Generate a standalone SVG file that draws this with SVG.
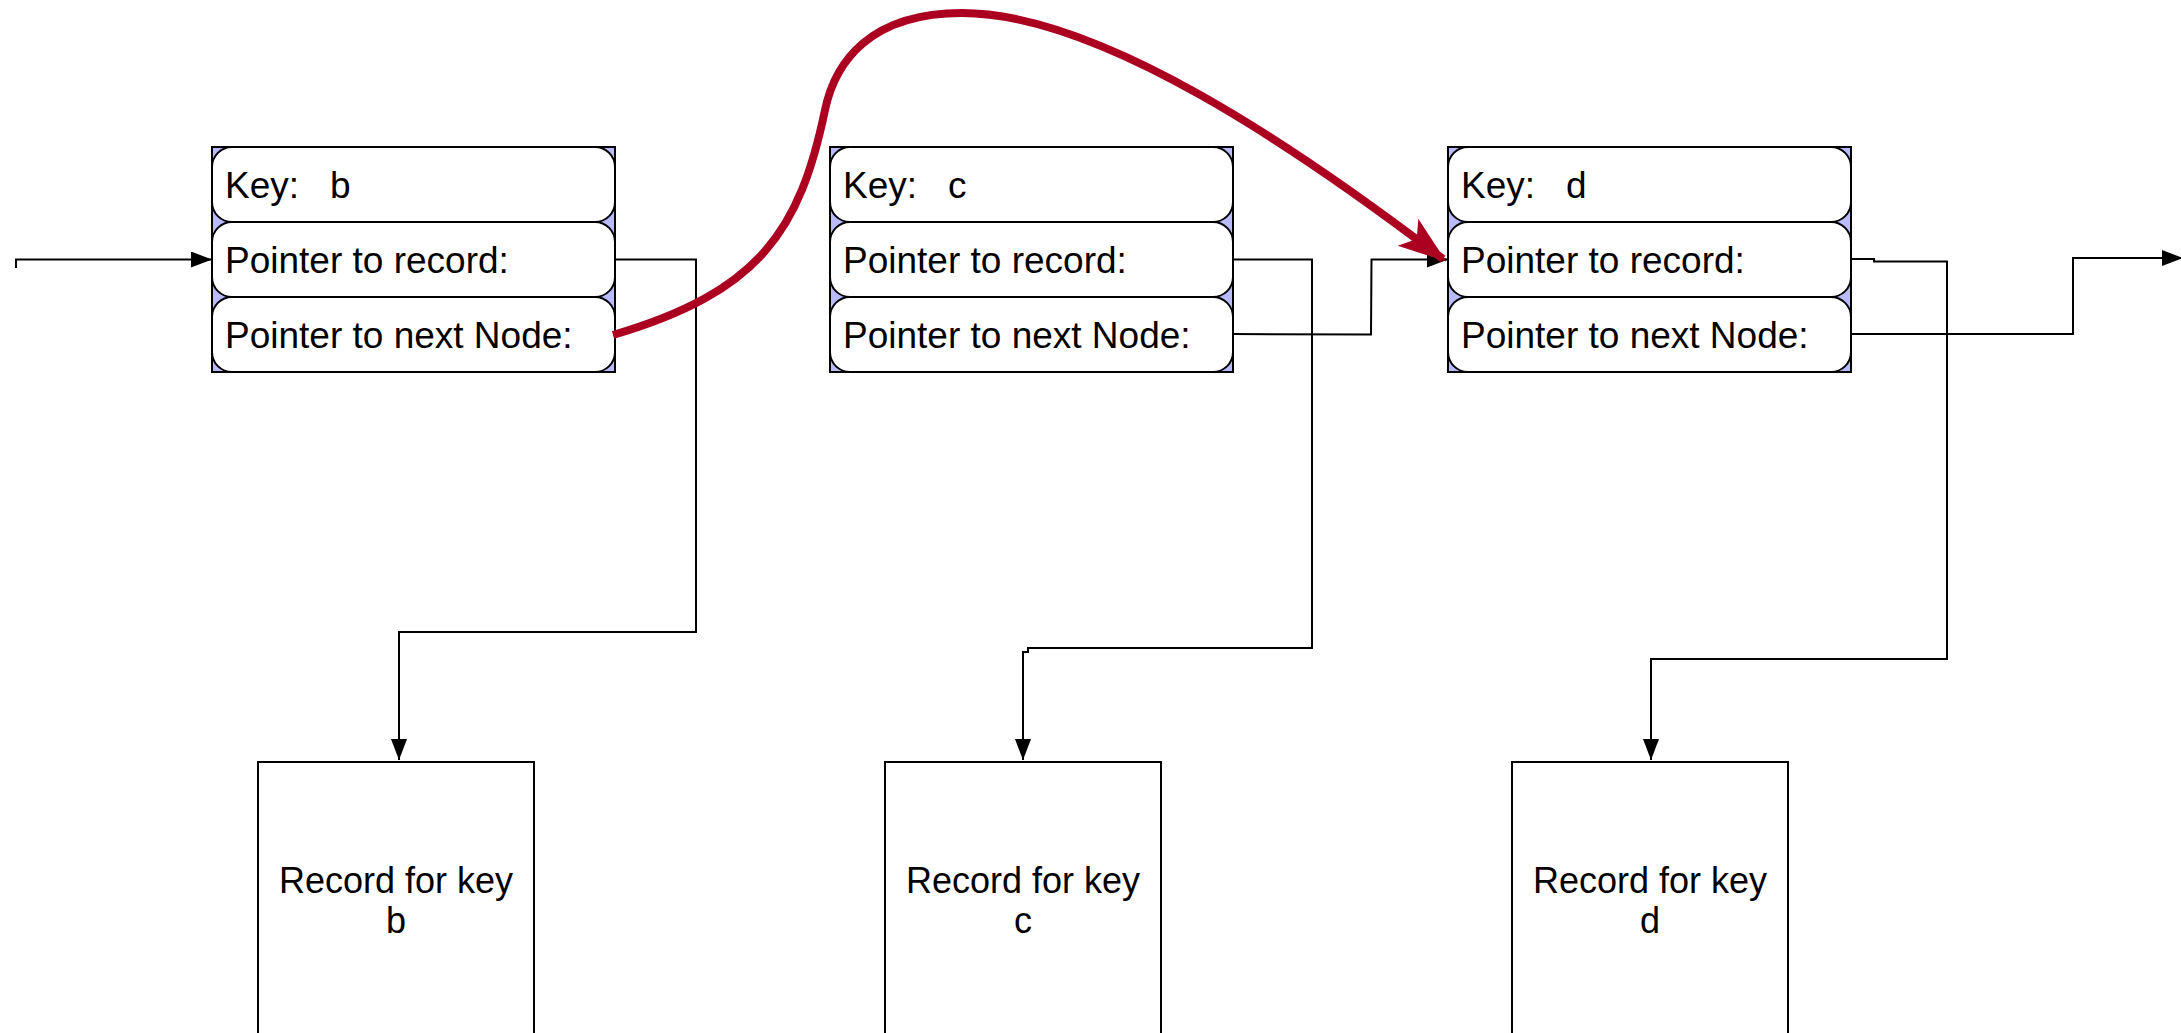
<svg xmlns="http://www.w3.org/2000/svg" width="2181" height="1033" viewBox="0 0 2181 1033">
  <style>
    .outer { fill: #babaff; stroke: #000; stroke-width: 2; }
    .row { fill: #fff; stroke: #000; stroke-width: 2; }
    .rec { fill: #fff; stroke: #000; stroke-width: 2; }
    .t { font-family: "Liberation Sans", Arial, sans-serif; font-size: 37px; fill: #000; }
    .rt { font-family: "Liberation Sans", Arial, sans-serif; font-size: 36px; fill: #000; text-anchor: middle; }
    .conn { fill: none; stroke: #000; stroke-width: 2; }
    .red { fill: none; stroke: #ac0020; stroke-width: 8; }
  </style>
  <defs>
    <marker id="arrow" markerUnits="userSpaceOnUse" markerWidth="22" markerHeight="17" refX="21" refY="8" orient="auto" viewBox="0 0 22 17">
      <path d="M0,0 L21,8 L0,16 z" fill="#000"/>
    </marker>
    <marker id="redarrow" markerUnits="userSpaceOnUse" markerWidth="50" markerHeight="36" refX="44" refY="17" orient="auto" viewBox="0 0 50 36">
      <path d="M0,0 L48,17 L0,34 L11,17 z" fill="#ac0020"/>
    </marker>
  </defs>

  <g id="node-b">
    <rect class="outer" x="212" y="147" width="403" height="225"/>
    <rect class="row" x="212" y="147" width="403" height="75" rx="20" ry="20"/>
    <rect class="row" x="212" y="222" width="403" height="75" rx="20" ry="20"/>
    <rect class="row" x="212" y="297" width="403" height="75" rx="20" ry="20"/>
    <text class="t" x="225" y="198" xml:space="preserve">Key:   b</text>
    <text class="t" x="225" y="273">Pointer to record:</text>
    <text class="t" x="225" y="348">Pointer to next Node:</text>
  </g>

  <g id="node-c">
    <rect class="outer" x="830" y="147" width="403" height="225"/>
    <rect class="row" x="830" y="147" width="403" height="75" rx="20" ry="20"/>
    <rect class="row" x="830" y="222" width="403" height="75" rx="20" ry="20"/>
    <rect class="row" x="830" y="297" width="403" height="75" rx="20" ry="20"/>
    <text class="t" x="843" y="198" xml:space="preserve">Key:   c</text>
    <text class="t" x="843" y="273">Pointer to record:</text>
    <text class="t" x="843" y="348">Pointer to next Node:</text>
  </g>

  <g id="node-d">
    <rect class="outer" x="1448" y="147" width="403" height="225"/>
    <rect class="row" x="1448" y="147" width="403" height="75" rx="20" ry="20"/>
    <rect class="row" x="1448" y="222" width="403" height="75" rx="20" ry="20"/>
    <rect class="row" x="1448" y="297" width="403" height="75" rx="20" ry="20"/>
    <text class="t" x="1461" y="198" xml:space="preserve">Key:   d</text>
    <text class="t" x="1461" y="273">Pointer to record:</text>
    <text class="t" x="1461" y="348">Pointer to next Node:</text>
  </g>

  <g id="record-b">
    <rect class="rec" x="258" y="762" width="276" height="300"/>
    <text class="rt" x="396" y="893">Record for key</text>
    <text class="rt" x="396" y="933">b</text>
  </g>
  <g id="record-c">
    <rect class="rec" x="885" y="762" width="276" height="300"/>
    <text class="rt" x="1023" y="893">Record for key</text>
    <text class="rt" x="1023" y="933">c</text>
  </g>
  <g id="record-d">
    <rect class="rec" x="1512" y="762" width="276" height="300"/>
    <text class="rt" x="1650" y="893">Record for key</text>
    <text class="rt" x="1650" y="933">d</text>
  </g>

  <g id="connectors">
    <path class="conn" d="M16,268 L16,259.5 L212,259.5" marker-end="url(#arrow)"/>
    <path class="conn" d="M615,259.5 L696,259.5 L696,632 L399,632 L399,760" marker-end="url(#arrow)"/>
    <path class="conn" d="M1233,259.5 L1312,259.5 L1312,648 L1028,648 L1028,652 L1023,652 L1023,760" marker-end="url(#arrow)"/>
    <path class="conn" d="M1233,334 L1371,334.5 L1371.5,259.5 L1448,259.5" marker-end="url(#arrow)"/>
    <path class="conn" d="M1851,259 L1874,259 L1874,261.5 L1947,261.5 L1947,659 L1651,659 L1651,760" marker-end="url(#arrow)"/>
    <path class="conn" d="M1851,334 L2073,334 L2073,258 L2183,258" marker-end="url(#arrow)"/>
    <path class="red" d="M613,335 C760,292 800,230 825,110 C835,62 870,13 962,13 C1100,13 1300,150 1443,259" marker-end="url(#redarrow)"/>
  </g>
</svg>
